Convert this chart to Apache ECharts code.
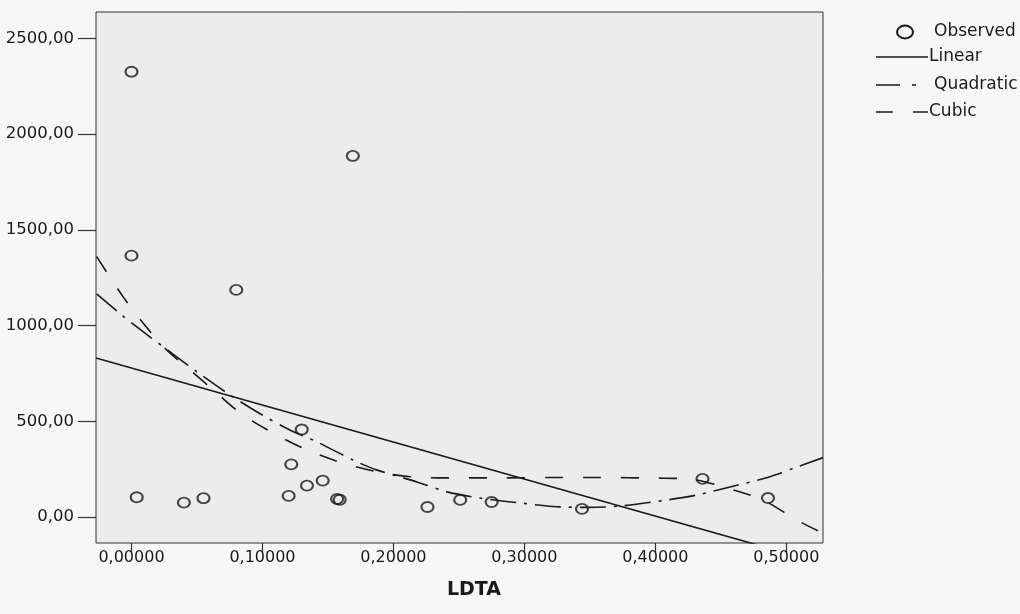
<!DOCTYPE html>
<html>
<head>
<meta charset="utf-8">
<script src="https://cdn.jsdelivr.net/npm/echarts@6/dist/echarts.min.js"></script>
<style>
html,body{margin:0;padding:0;background:#f7f7f7;}
#chart{width:1020px;height:614px;}
</style>
</head>
<body>
<div id="chart"></div>
<script>
// Tick values
const xTicks = [0, 0.1, 0.2, 0.3, 0.4, 0.5];
const yTicks = [0, 500, 1000, 1500, 2000, 2500];

// Observed points (LDTA, value)
const obsX = [0.000, 0.169, 0.000, 0.080, 0.130, 0.122, 0.004, 0.040, 0.055, 0.120, 0.134, 0.146, 0.157, 0.159, 0.226, 0.251, 0.275, 0.344, 0.436, 0.486];
const obsY = [2326, 1886, 1365, 1186, 457, 275, 103, 75, 98, 110, 164, 190, 94, 90, 52, 89, 78, 42, 199, 99];

// Linear fit (read at the plot edges)
const linX = [-0.0271, 0.528];
const linY = [831, -243];

// Quadratic fit
const quadX = [-0.0266, -0.0075, 0.0088, 0.0294, 0.0498, 0.0752, 0.0956, 0.121, 0.1414, 0.169, 0.187, 0.218, 0.241, 0.266, 0.297, 0.322, 0.348, 0.373, 0.409, 0.432, 0.457, 0.487, 0.508, 0.528];
const quadY = [1165, 1055, 968, 863, 759, 637, 550, 454, 393, 298, 246, 183, 131, 99, 73, 55, 50, 57, 89, 115, 157, 209, 261, 310];

// Cubic fit
const cubX = [-0.0266, -0.0065, 0.0088, 0.0269, 0.0447, 0.065, 0.085, 0.111, 0.134, 0.161, 0.187, 0.213, 0.25, 0.281, 0.32, 0.358, 0.40, 0.429, 0.455, 0.482, 0.508, 0.528];
const cubY = [1360, 1151, 1013, 872, 768, 648, 533, 428, 350, 282, 237, 210, 204, 204, 206, 206, 203, 196, 150, 89, -16, -85];

const toPairs = (xs, ys) => xs.map((x, i) => [x, ys[i]]);
const fmtX = v => v.toFixed(5).replace('.', ',');
const fmtY = v => v.toFixed(2).replace('.', ',');

const FONT = '"DejaVu Sans", sans-serif';
const INK = '#1a1a1a';

const chart = echarts.init(document.getElementById('chart'), null, {renderer: 'canvas'});

const legendX = 876;
chart.setOption({
  animation: false,
  backgroundColor: '#f7f7f7',
  grid: {
    left: 96, right: 197, top: 12, bottom: 71,
    show: true, backgroundColor: '#ececec', borderColor: '#333', borderWidth: 1
  },
  xAxis: {
    type: 'value', min: -0.0271, max: 0.528,
    axisLine: {show: false, onZero: false},
    splitLine: {show: false},
    axisTick: {show: true, customValues: xTicks, length: 9, inside: false, lineStyle: {color: '#333', width: 1.2}},
    axisLabel: {customValues: xTicks, formatter: fmtX, margin: 7, fontFamily: FONT, fontSize: 16, color: INK}
  },
  yAxis: {
    type: 'value', min: -136, max: 2638,
    axisLine: {show: false, onZero: false},
    splitLine: {show: false},
    axisTick: {show: true, customValues: yTicks, length: 18, inside: false, lineStyle: {color: '#333', width: 1.2}},
    axisLabel: {customValues: yTicks, formatter: fmtY, margin: 22, fontFamily: FONT, fontSize: 16.5, color: INK}
  },
  series: [
    {
      name: 'Linear', type: 'line', data: toPairs(linX, linY), showSymbol: false, clip: true,
      lineStyle: {color: INK, width: 1.6, type: 'solid'}
    },
    {
      name: 'Quadratic', type: 'line', data: toPairs(quadX, quadY), showSymbol: false, smooth: 0.3, clip: true,
      lineStyle: {color: INK, width: 1.6, type: [26, 8, 3, 8]}
    },
    {
      name: 'Cubic', type: 'line', data: toPairs(cubX, cubY), showSymbol: false, smooth: 0.3, clip: true,
      lineStyle: {color: INK, width: 1.6, type: [18, 20]}
    },
    {
      name: 'Observed', type: 'scatter', data: toPairs(obsX, obsY),
      symbol: 'circle', symbolSize: [12, 10],
      itemStyle: {color: 'rgba(0,0,0,0)', borderColor: INK, borderWidth: 2}
    }
  ],
  graphic: [
    {type: 'text', x: 474, y: 590, style: {text: 'LDTA', font: 'bold 19px ' + FONT, fill: INK, align: 'center', verticalAlign: 'middle'}},
    // legend
    {type: 'ellipse', shape: {cx: 905, cy: 32, rx: 8, ry: 6.5}, style: {fill: 'none', stroke: INK, lineWidth: 2}},
    {type: 'text', x: 934, y: 32, style: {text: 'Observed', font: '17px ' + FONT, fill: INK, verticalAlign: 'middle'}},
    {type: 'line', shape: {x1: legendX, y1: 57, x2: 928, y2: 57}, style: {stroke: INK, lineWidth: 1.6}},
    {type: 'text', x: 929, y: 57, style: {text: 'Linear', font: '17px ' + FONT, fill: INK, verticalAlign: 'middle'}},
    {type: 'line', shape: {x1: legendX, y1: 85, x2: 916, y2: 85}, style: {stroke: INK, lineWidth: 1.6, lineDash: [24, 12, 4, 20]}},
    {type: 'text', x: 934, y: 85, style: {text: 'Quadratic', font: '17px ' + FONT, fill: INK, verticalAlign: 'middle'}},
    {type: 'line', shape: {x1: legendX, y1: 112, x2: 928, y2: 112}, style: {stroke: INK, lineWidth: 1.6, lineDash: [17, 20, 15]}},
    {type: 'text', x: 929, y: 112, style: {text: 'Cubic', font: '17px ' + FONT, fill: INK, verticalAlign: 'middle'}}
  ]
});
</script>
</body>
</html>
